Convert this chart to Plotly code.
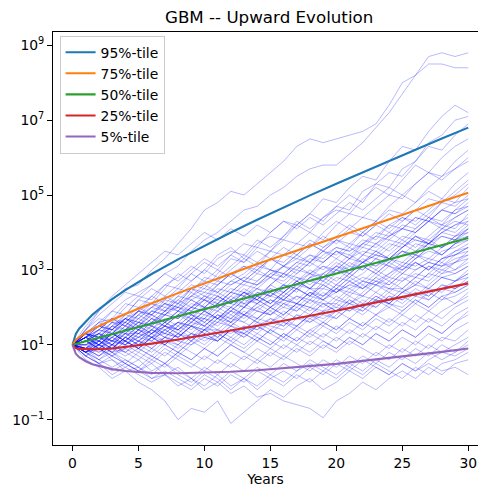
import plotly.graph_objects as go

# ---- simulated GBM sample paths (log10 of value, one point per year) ----
years = list(range(31))

paths_log10 = [
    [1.0,1.4,1.9,2.2,2.5,2.6,3.0,3.3,3.7,4.1,4.6,4.8,5.1,5.0,5.3,5.6,5.9,6.3,6.5,6.4,6.5,6.6,6.7,6.9,7.4,8.0,8.2,8.7,8.8,8.7,8.8],
    [1.0,1.3,1.5,1.9,2.2,2.4,2.6,2.9,3.1,3.5,3.8,4.0,4.3,4.6,4.7,5.0,5.2,5.5,5.7,5.8,5.8,6.1,6.4,6.8,7.2,7.7,8.2,8.5,8.5,8.4,8.4],
    [1.0,1.2,1.6,1.7,2.1,2.0,2.3,2.6,2.5,2.9,3.2,3.0,3.4,3.7,3.6,4.0,4.3,4.2,4.5,4.9,4.8,5.2,5.5,5.4,5.9,6.3,6.2,6.7,7.1,7.4,7.2],
    [1.0,1.3,1.1,1.5,1.8,2.2,2.1,2.5,2.9,2.7,3.0,3.4,3.6,3.3,3.7,3.9,3.8,4.2,4.5,4.3,4.7,5.0,4.8,5.3,5.6,5.5,5.9,6.4,6.6,7.0,7.1],
    [1.0,0.8,1.2,1.5,1.4,1.8,2.0,1.9,2.3,2.6,2.5,2.9,3.3,3.2,3.6,3.5,3.9,4.2,4.0,4.4,4.7,4.6,5.1,5.3,5.2,5.7,5.9,6.3,6.2,6.6,6.9],
    [1.0,1.4,1.7,1.6,2.0,2.3,2.2,2.6,2.8,3.1,2.9,3.3,3.5,3.4,3.8,3.6,3.9,4.3,4.1,4.4,4.6,4.5,4.9,5.2,5.0,5.4,5.8,5.6,6.0,6.3,6.5],
    [1.0,1.1,1.4,1.3,1.7,1.9,2.3,2.1,2.4,2.7,3.0,2.8,3.1,3.4,3.2,3.5,3.8,3.7,4.0,3.8,4.2,4.5,4.4,4.7,5.0,4.9,5.3,5.6,5.5,5.9,6.2],
    [1.0,1.3,1.2,1.6,1.5,1.9,1.8,2.2,2.5,2.4,2.8,2.7,3.0,3.3,3.1,3.5,3.4,3.7,3.6,4.0,4.3,4.1,4.4,4.3,4.7,5.0,4.8,5.2,5.5,5.7,5.9],
    [1.0,0.9,1.3,1.6,1.4,1.7,2.0,2.3,2.1,2.5,2.7,2.6,2.9,3.1,3.0,3.3,3.2,3.5,3.8,3.6,3.9,4.2,4.0,4.3,4.6,4.5,4.8,5.1,4.9,5.3,5.6],
    [1.0,1.2,1.0,1.3,1.6,1.9,1.7,2.0,1.9,2.3,2.6,2.4,2.7,2.9,3.2,3.0,3.4,3.3,3.6,3.9,3.7,4.0,3.9,4.2,4.5,4.3,4.6,4.9,4.8,5.1,5.4],
    [1.0,1.2,1.5,1.4,1.7,1.5,1.9,2.1,2.0,2.4,2.2,2.6,2.9,2.7,3.0,3.3,3.1,3.4,3.2,3.6,3.8,3.7,4.0,3.8,4.2,4.4,4.3,4.6,4.9,4.8,5.2],
    [1.0,1.3,1.6,1.9,1.8,2.2,2.5,2.3,2.6,2.9,2.7,3.0,2.8,3.1,2.9,3.3,3.1,3.4,3.7,3.5,3.8,3.6,4.0,4.3,4.1,4.4,4.2,4.5,4.8,4.7,5.0],
    [1.0,0.8,1.1,1.0,1.3,1.6,1.4,1.8,1.7,2.0,2.3,2.1,2.4,2.7,2.6,2.9,2.8,3.1,3.4,3.2,3.5,3.3,3.7,3.9,3.8,4.1,4.0,4.3,4.6,4.5,4.8],
    [1.0,1.1,0.9,1.2,1.5,1.3,1.6,1.9,2.2,2.0,2.3,2.2,2.5,2.4,2.7,3.0,2.8,3.1,2.9,3.2,3.5,3.3,3.6,3.5,3.8,3.7,4.0,4.3,4.1,4.4,4.6],
    [1.0,1.3,1.2,1.5,1.3,1.6,1.5,1.8,2.1,1.9,2.2,2.0,2.3,2.6,2.5,2.8,2.6,2.9,3.2,3.0,3.3,3.1,3.4,3.7,3.5,3.8,3.6,3.9,4.2,4.1,4.5],
    [1.0,0.7,1.0,1.3,1.2,1.5,1.8,1.6,1.9,1.7,2.1,2.4,2.2,2.5,2.3,2.6,2.9,2.7,3.0,2.8,3.1,3.4,3.2,3.5,3.3,3.6,3.9,3.7,4.0,4.2,4.3],
    [1.0,1.2,1.4,1.3,1.6,1.4,1.7,1.5,1.8,2.1,2.0,2.3,2.1,2.4,2.2,2.6,2.4,2.7,2.5,2.9,3.2,3.0,3.3,3.1,3.4,3.7,3.5,3.8,3.6,3.9,4.2],
    [1.0,1.1,1.3,1.1,1.4,1.7,1.5,1.3,1.6,1.9,1.8,2.1,1.9,2.2,2.5,2.3,2.6,2.4,2.8,3.1,2.9,3.2,3.0,3.3,3.1,3.4,3.7,3.6,3.9,3.8,4.1],
    [1.0,0.9,0.7,1.0,1.3,1.1,1.4,1.7,1.5,1.8,1.6,1.9,2.2,2.0,2.3,2.1,2.4,2.7,2.5,2.8,2.6,2.9,3.2,3.0,3.3,3.1,3.4,3.3,3.6,3.8,4.0],
    [1.0,1.2,1.0,1.3,1.1,1.4,1.2,1.5,1.8,1.6,1.9,1.7,2.0,2.3,2.1,2.4,2.2,2.5,2.3,2.7,2.5,2.8,3.1,2.9,3.2,3.0,3.3,3.6,3.4,3.7,3.9],
    [1.0,1.3,1.1,0.9,1.2,1.5,1.3,1.6,1.4,1.7,1.5,1.8,1.6,2.0,2.3,2.1,2.4,2.2,2.5,2.3,2.6,2.9,2.7,3.0,2.8,3.1,3.4,3.2,3.5,3.6,3.8],
    [1.0,0.8,1.0,1.3,1.1,0.9,1.2,1.5,1.3,1.6,1.9,1.7,2.0,1.8,2.1,1.9,2.2,2.5,2.3,2.6,2.4,2.7,2.5,2.8,3.1,2.9,3.2,3.0,3.3,3.5,3.7],
    [1.0,1.2,1.5,1.3,1.6,1.4,1.7,1.5,1.3,1.6,1.9,1.7,2.0,1.8,2.1,2.4,2.2,2.5,2.3,2.6,2.4,2.7,2.5,2.8,2.6,2.9,3.2,3.0,3.3,3.4,3.6],
    [1.0,0.9,1.1,0.9,1.2,1.0,1.3,1.6,1.4,1.7,1.5,1.8,1.6,1.9,1.7,2.0,1.8,2.1,2.4,2.2,2.5,2.3,2.6,2.4,2.7,2.5,2.8,3.1,2.9,3.2,3.5],
    [1.0,1.1,0.9,1.2,1.0,1.3,1.1,1.4,1.2,1.5,1.3,1.6,1.9,1.7,2.0,1.8,2.1,1.9,2.2,2.0,2.3,2.1,2.4,2.7,2.5,2.8,2.6,2.9,3.2,3.0,3.3],
    [1.0,0.8,0.6,0.9,1.2,1.0,1.3,1.1,1.4,1.2,1.5,1.3,1.6,1.4,1.7,2.0,1.8,2.1,1.9,2.2,2.0,2.3,2.1,2.4,2.2,2.5,2.3,2.6,2.9,3.0,3.2],
    [1.0,1.2,1.0,1.3,1.1,0.9,1.2,1.0,1.3,1.1,1.4,1.2,1.5,1.8,1.6,1.9,1.7,2.0,1.8,2.1,1.9,2.2,2.0,2.3,2.1,2.4,2.6,2.5,2.8,2.7,3.0],
    [1.0,0.9,1.2,1.0,0.8,1.1,0.9,1.2,1.5,1.3,1.6,1.4,1.2,1.5,1.3,1.6,1.9,1.7,2.0,1.8,2.1,1.9,2.2,2.0,2.3,2.1,2.4,2.2,2.5,2.7,2.9],
    [1.0,1.1,0.9,0.7,1.0,0.8,1.1,1.4,1.2,1.5,1.3,1.1,1.4,1.2,1.5,1.3,1.6,1.4,1.7,1.5,1.8,2.1,1.9,2.2,2.0,2.3,2.1,2.4,2.2,2.5,2.7],
    [1.0,0.8,1.0,0.8,1.1,0.9,0.7,1.0,0.8,1.1,1.4,1.2,1.5,1.3,1.1,1.4,1.2,1.5,1.8,1.6,1.9,1.7,2.0,1.8,2.1,1.9,2.2,2.0,2.3,2.4,2.6],
    [1.0,1.2,1.0,0.8,1.1,0.9,1.2,1.0,0.8,1.1,0.9,1.2,1.0,1.3,1.1,1.4,1.2,1.5,1.3,1.6,1.4,1.7,1.5,1.8,1.6,1.9,2.2,2.0,2.3,2.1,2.4],
    [1.0,0.7,0.9,0.7,0.5,0.8,0.6,0.9,0.7,1.0,1.3,1.1,1.4,1.2,1.5,1.3,1.1,1.4,1.2,1.5,1.3,1.6,1.4,1.7,1.5,1.8,1.6,1.9,1.7,2.0,2.2],
    [1.0,0.9,0.7,1.0,0.8,0.6,0.9,0.7,1.0,0.8,0.6,0.9,1.2,1.0,1.3,1.1,0.9,1.2,1.0,1.3,1.1,1.4,1.2,1.5,1.3,1.6,1.4,1.7,1.5,1.8,2.0],
    [1.0,0.8,1.0,0.8,0.6,0.4,0.7,0.5,0.8,0.6,0.9,0.7,1.0,0.8,1.1,0.9,1.2,1.0,1.3,1.1,0.9,1.2,1.0,1.3,1.1,1.4,1.2,1.5,1.3,1.6,1.8],
    [1.0,1.1,0.9,0.7,0.9,0.7,0.5,0.8,0.6,0.4,0.7,0.5,0.8,0.6,0.9,0.7,1.0,0.8,1.1,0.9,1.2,1.0,1.3,1.1,0.9,1.2,1.0,1.3,1.1,1.4,1.6],
    [1.0,0.7,0.5,0.7,0.5,0.3,0.6,0.4,0.7,0.5,0.3,0.6,0.4,0.7,0.5,0.8,0.6,0.9,0.7,1.0,0.8,1.1,0.9,0.7,1.0,0.8,1.1,0.9,1.2,1.1,1.4],
    [1.0,0.8,0.6,0.4,0.6,0.4,0.2,0.5,0.3,0.1,0.4,0.2,0.5,0.3,0.6,0.4,0.7,0.5,0.3,0.6,0.4,0.7,0.5,0.8,0.6,0.9,0.7,1.0,0.8,1.0,1.2],
    [1.0,0.8,0.5,0.3,0.5,0.3,0.1,0.3,0.1,-0.1,0.2,0.0,0.3,0.1,0.4,0.2,0.5,0.3,0.6,0.4,0.2,0.5,0.3,0.6,0.4,0.7,0.5,0.8,0.6,0.8,1.0],
    [1.0,0.7,0.5,0.2,0.4,0.2,0.0,0.2,0.0,-0.2,0.1,-0.1,0.2,0.0,0.3,0.1,-0.1,0.2,0.0,0.3,0.1,0.4,0.2,0.5,0.3,0.1,0.4,0.2,0.5,0.6,0.8],
    [1.0,0.7,0.5,0.6,0.3,0.4,0.1,0.2,-0.1,0.1,-0.2,0.0,-0.3,-0.1,-0.4,-0.3,-0.5,-0.6,-0.7,-0.95,-0.5,-0.3,0.0,-0.2,0.1,0.3,0.1,0.4,0.2,0.5,0.6],
    [1.0,0.6,0.4,0.1,0.3,0.0,-0.2,-0.5,-1.0,-0.7,-0.8,-0.5,-1.1,-0.8,-0.5,-0.2,-0.4,-0.1,0.1,-0.2,0.0,0.3,0.1,0.4,0.2,0.5,0.3,0.5,0.3,0.4,0.2],
    [1.0,0.9,0.6,0.8,0.5,0.3,0.5,0.2,0.4,0.1,-0.1,0.2,-0.1,0.1,-0.2,0.1,0.3,0.1,0.4,0.2,0.5,0.3,0.6,0.4,0.2,0.5,0.3,0.6,0.8,0.7,0.9],
    [1.0,0.8,0.9,0.6,0.4,0.6,0.3,0.5,0.2,0.0,0.3,0.1,-0.2,0.1,-0.1,0.2,0.0,0.3,0.5,0.3,0.6,0.4,0.7,0.5,0.8,0.6,0.9,0.7,1.0,0.8,1.1],
    [1.0,1.3,1.6,1.4,1.7,2.0,1.8,2.1,1.9,2.2,2.0,2.3,2.1,2.4,2.2,2.5,2.3,2.6,2.9,2.7,3.0,2.8,3.1,2.9,3.2,3.5,3.3,3.6,3.4,3.7,3.9],
    [1.0,1.0,1.2,1.0,1.3,1.1,1.4,1.2,1.5,1.8,1.6,1.9,1.7,2.0,2.3,2.1,2.4,2.7,2.5,2.8,3.1,2.9,3.2,3.5,3.3,3.6,3.9,3.7,4.0,4.2,4.4],
    [1.0,1.2,1.4,1.7,1.5,1.8,1.6,1.9,1.7,2.0,2.2,2.0,2.3,2.1,1.9,2.2,2.0,2.3,2.1,2.4,2.2,2.5,2.3,2.6,2.4,2.7,2.9,2.8,3.1,3.2,3.4],
    [1.0,1.1,1.3,1.1,1.4,1.2,1.5,1.3,1.6,1.4,1.7,1.5,1.8,1.6,1.4,1.7,1.5,1.8,1.6,1.9,1.7,2.0,1.8,2.1,2.4,2.2,2.5,2.3,2.6,2.5,2.8],
    [1.0,0.8,1.1,1.3,1.1,1.4,1.2,1.0,1.3,1.1,1.4,1.7,1.5,1.8,1.6,1.4,1.7,1.5,1.8,2.1,1.9,2.2,2.0,2.3,2.1,2.4,2.7,2.5,2.8,2.9,3.1],
    [1.0,1.2,1.0,1.2,1.0,1.2,1.4,1.2,1.0,1.3,1.1,1.3,1.1,1.4,1.2,1.0,1.3,1.1,1.4,1.6,1.4,1.7,1.5,1.8,2.0,1.8,2.1,1.9,2.2,2.3,2.5],
    [1.0,1.4,1.8,2.1,2.4,2.3,2.6,2.9,2.7,3.0,3.3,3.1,3.4,3.2,3.5,3.3,3.6,3.4,3.7,3.5,3.8,4.1,3.9,4.2,4.0,4.3,4.6,4.4,4.8,5.0,5.3],
    [1.0,1.5,1.9,2.3,2.6,2.9,3.2,3.5,3.4,3.7,4.0,3.8,4.1,3.9,4.2,4.0,4.3,4.1,4.4,4.2,4.5,4.8,4.6,4.9,5.2,5.0,5.3,5.6,5.4,5.7,6.0],
    [1.0,1.1,1.4,1.7,1.5,1.8,2.1,1.9,2.2,2.5,2.3,2.6,2.9,2.7,3.0,2.8,3.1,2.9,3.2,3.5,3.3,3.6,3.4,3.7,4.0,3.8,4.1,4.4,4.2,4.6,4.9],
    [1.0,0.9,1.1,0.9,1.2,1.0,0.8,1.1,0.9,1.2,1.0,1.3,1.1,0.9,1.2,1.0,1.3,1.1,1.4,1.2,1.5,1.3,1.6,1.4,1.7,1.5,1.8,1.6,1.9,2.1,2.3],
    [1.0,1.3,1.1,1.4,1.7,1.5,1.8,1.6,1.9,2.2,2.0,2.3,2.1,2.4,2.2,2.0,2.3,2.1,2.4,2.2,2.5,2.8,2.6,2.9,2.7,3.0,3.2,3.0,3.3,3.4,3.6],
    [1.0,0.9,0.7,0.9,0.7,0.9,0.7,0.5,0.8,0.6,0.9,0.7,1.0,0.8,0.6,0.9,0.7,1.0,0.8,1.1,0.9,1.2,1.0,1.3,1.1,1.4,1.2,1.5,1.3,1.6,1.9],
    [1.0,1.3,1.2,1.0,1.4,1.6,1.5,1.9,2.0,1.8,1.7,2.1,2.4,2.3,2.2,2.6,2.9,2.8,2.6,2.9,3.1,3.0,3.4,3.3,3.6,3.9,3.8,3.7,4.1,4.3,4.2],
    [1.0,0.9,1.2,1.1,1.1,1.4,1.3,1.5,1.4,1.7,2.0,2.0,1.8,2.1,2.2,2.0,2.3,2.6,2.5,2.5,2.8,2.7,2.9,3.2,3.1,3.0,3.3,3.5,3.4,3.7,3.8],
    [1.0,1.1,1.3,1.6,1.6,1.9,2.1,2.0,2.3,2.2,2.4,2.7,2.6,2.8,3.1,3.0,2.9,3.2,3.4,3.3,3.6,3.5,3.7,4.0,3.9,4.1,4.4,4.3,4.6,4.5,4.7],
    [1.0,1.0,0.8,1.0,1.1,0.9,1.2,1.3,1.2,1.5,1.4,1.4,1.7,1.6,1.9,1.8,2.0,1.9,2.2,2.1,2.1,2.4,2.3,2.6,2.5,2.5,2.8,2.7,3.0,2.9,3.1],
    [1.0,1.2,1.1,1.4,1.3,1.3,1.6,1.8,1.7,2.0,1.9,2.2,2.1,2.0,2.4,2.3,2.6,2.5,2.8,2.9,2.7,3.0,3.2,3.1,3.3,3.2,3.5,3.7,3.6,3.9,4.0],
    [1.0,0.8,0.9,1.1,1.0,1.2,1.1,1.0,1.3,1.2,1.4,1.6,1.5,1.4,1.7,1.6,1.8,2.1,2.0,1.9,2.2,2.1,2.3,2.2,2.5,2.4,2.6,2.9,2.8,2.7,2.9],
    [1.0,1.2,1.5,1.4,1.8,1.7,2.0,2.2,2.1,2.5,2.4,2.3,2.6,2.8,2.7,3.0,2.9,3.2,3.1,3.4,3.6,3.5,3.8,3.7,3.9,4.2,4.1,4.4,4.3,4.6,4.7],
    [1.0,1.1,1.0,1.2,1.4,1.3,1.5,1.4,1.6,1.5,1.8,1.7,1.9,2.2,2.1,2.3,2.2,2.1,2.4,2.3,2.6,2.5,2.7,2.6,2.9,3.1,3.0,3.2,3.1,3.4,3.5],
    [1.0,1.0,1.2,1.3,1.1,1.4,1.6,1.5,1.8,1.7,1.7,2.0,2.2,2.1,2.4,2.3,2.5,2.8,2.7,2.6,2.9,3.1,3.0,3.3,3.2,3.5,3.4,3.7,3.9,3.8,4.1],
    [1.0,0.9,1.0,0.8,0.9,1.1,1.0,1.2,1.1,1.0,1.2,1.4,1.3,1.5,1.4,1.6,1.5,1.8,1.7,1.9,2.0,1.9,2.1,2.0,2.3,2.2,2.4,2.3,2.6,2.5,2.7],
    [1.0,1.3,1.5,1.4,1.7,1.6,1.9,1.8,2.1,2.3,2.2,2.5,2.4,2.7,2.6,2.9,3.1,3.0,3.3,3.2,3.5,3.4,3.7,3.6,3.9,4.1,4.0,4.3,4.2,4.4,4.6],
    [1.0,1.1,0.9,1.1,1.3,1.2,1.4,1.3,1.2,1.5,1.4,1.7,1.6,1.8,1.7,2.0,2.2,2.1,2.0,2.3,2.5,2.4,2.7,2.6,2.8,2.7,3.0,3.2,3.1,3.3,3.4],
    [1.0,1.2,1.3,1.1,1.4,1.5,1.3,1.6,1.9,1.8,2.0,1.9,2.2,2.4,2.3,2.5,2.4,2.7,2.9,2.8,3.0,3.3,3.2,3.4,3.3,3.6,3.8,3.7,4.0,3.9,4.1],
    [1.0,0.8,1.0,0.9,0.8,1.0,1.2,1.1,1.0,1.3,1.2,1.1,1.4,1.3,1.6,1.5,1.4,1.7,1.6,1.8,1.7,2.0,1.9,2.2,2.1,2.0,2.3,2.2,2.5,2.4,2.6],
    [1.0,1.2,1.4,1.7,1.6,1.9,1.8,2.1,2.0,2.3,2.5,2.4,2.7,2.6,2.9,2.8,3.1,3.3,3.2,3.5,3.4,3.7,3.6,3.9,4.2,4.1,4.4,4.3,4.6,4.8,4.9],
    [1.0,1.0,1.1,0.9,1.2,1.1,1.3,1.5,1.4,1.6,1.5,1.8,1.7,2.0,1.9,1.8,2.1,2.0,2.3,2.2,2.4,2.6,2.5,2.7,2.6,2.9,2.8,3.1,3.0,3.2,3.3],
    [1.0,1.1,1.3,1.2,1.5,1.4,1.7,1.6,1.8,2.0,1.9,2.1,2.0,2.3,2.5,2.4,2.6,2.5,2.8,2.7,3.0,2.9,3.2,3.4,3.3,3.5,3.4,3.7,3.6,3.8,3.9],
    [1.0,0.9,0.8,1.0,0.9,1.1,0.9,1.2,1.1,1.3,1.2,1.1,1.4,1.3,1.5,1.7,1.6,1.5,1.8,1.7,1.9,2.1,2.0,2.2,2.1,2.4,2.3,2.5,2.4,2.7,2.8],
    [1.0,1.3,1.2,1.5,1.7,1.6,1.9,1.8,2.0,1.9,2.2,2.1,2.4,2.3,2.6,2.8,2.7,3.0,2.9,3.1,3.0,3.3,3.5,3.4,3.7,3.6,3.9,3.8,4.1,4.0,4.3],
    [1.0,1.0,1.2,1.1,1.0,1.3,1.2,1.4,1.6,1.5,1.7,1.6,1.9,1.8,2.0,2.2,2.1,2.3,2.2,2.5,2.4,2.6,2.8,2.7,2.9,3.2,3.1,3.3,3.2,3.5,3.6],
]

# ---- percentile curves (log10 of value) ----
pct_years = [0, 0.25, 0.5, 1, 1.5, 2, 3, 4, 5, 6, 8, 10, 12, 14, 16, 18, 20, 22, 24, 26, 28, 30]
p95_log10 = [1.0, 1.29, 1.43, 1.63, 1.80, 1.95, 2.22, 2.46, 2.68, 2.89, 3.28, 3.65, 4.00, 4.34, 4.67, 4.99, 5.30, 5.61, 5.91, 6.21, 6.51, 6.80]
p75_log10 = [1.0, 1.13, 1.20, 1.32, 1.41, 1.50, 1.67, 1.82, 1.97, 2.11, 2.38, 2.65, 2.90, 3.16, 3.40, 3.65, 3.89, 4.12, 4.36, 4.59, 4.83, 5.06]
p50_log10 = [1.0, 1.02, 1.05, 1.10, 1.14, 1.19, 1.29, 1.38, 1.48, 1.57, 1.76, 1.95, 2.14, 2.33, 2.52, 2.71, 2.90, 3.09, 3.28, 3.47, 3.66, 3.85]
p25_log10 = [1.0, 0.91, 0.89, 0.88, 0.87, 0.88, 0.90, 0.94, 0.98, 1.03, 1.14, 1.25, 1.38, 1.51, 1.64, 1.78, 1.91, 2.06, 2.20, 2.35, 2.49, 2.64]
p05_log10 = [1.0, 0.76, 0.67, 0.56, 0.48, 0.43, 0.35, 0.30, 0.27, 0.25, 0.24, 0.25, 0.28, 0.32, 0.37, 0.43, 0.49, 0.57, 0.64, 0.73, 0.81, 0.90]

pct_names = ["95%-tile", "75%-tile", "50%-tile", "25%-tile", "5%-tile"]
pct_series = [p95_log10, p75_log10, p50_log10, p25_log10, p05_log10]
pct_colors = ["#1f77b4", "#ff7f0e", "#2ca02c", "#d62728", "#9467bd"]

x_ticks = [0, 5, 10, 15, 20, 25, 30]
y_tick_exponents = [-1, 1, 3, 5, 7, 9]
y_tick_text = ["10<sup>\u22121</sup>", "10<sup>1</sup>", "10<sup>3</sup>",
               "10<sup>5</sup>", "10<sup>7</sup>", "10<sup>9</sup>"]

FONT = "DejaVu Sans"

fig = go.Figure()

for path in paths_log10:
    fig.add_trace(go.Scatter(
        x=years, y=[10 ** v for v in path], mode="lines",
        line=dict(color="rgba(0,0,255,0.28)", width=1),
        showlegend=False, hoverinfo="skip",
    ))

for name, series, color in zip(pct_names, pct_series, pct_colors):
    fig.add_trace(go.Scatter(
        x=pct_years, y=[10 ** v for v in series], mode="lines", name=name,
        line=dict(color=color, width=2.1),
        legendgroup=name,
    ))

fig.update_layout(
    width=478, height=488,
    margin=dict(l=52.7, r=0, t=31.7, b=43.3),
    paper_bgcolor="white", plot_bgcolor="white",
    font=dict(family=FONT, size=13.9, color="black"),
    title=dict(text="GBM -- Upward Evolution", x=0.5086, xref="paper",
               y=1 - 17.5 / 488, yref="container", yanchor="middle", xanchor="center",
               font=dict(family=FONT, size=16.7, color="black")),
    legend=dict(x=0.0155, y=0.991, xanchor="left", yanchor="top",
                bgcolor="rgba(255,255,255,0.8)", bordercolor="#cccccc", borderwidth=1,
                font=dict(family=FONT, size=13.9, color="black"),
                tracegroupgap=2, traceorder="normal"),
    xaxis=dict(range=[-1.48, 30.74], tickvals=x_ticks, showgrid=False, zeroline=False,
               showline=True, linecolor="black", linewidth=1.1, mirror=True,
               ticks="outside", ticklen=4.9, tickwidth=1.1, tickcolor="black",
               title=dict(text="Years", font=dict(family=FONT, size=13.9), standoff=4)),
    yaxis=dict(type="log", range=[-1.677, 9.355],
               tickvals=[10 ** e for e in y_tick_exponents], ticktext=y_tick_text,
               showgrid=False, zeroline=False, showline=True, linecolor="black", linewidth=1.1,
               ticks="outside", ticklen=4.9, tickwidth=1.1, tickcolor="black"),
)

fig.write_html("out.html")
